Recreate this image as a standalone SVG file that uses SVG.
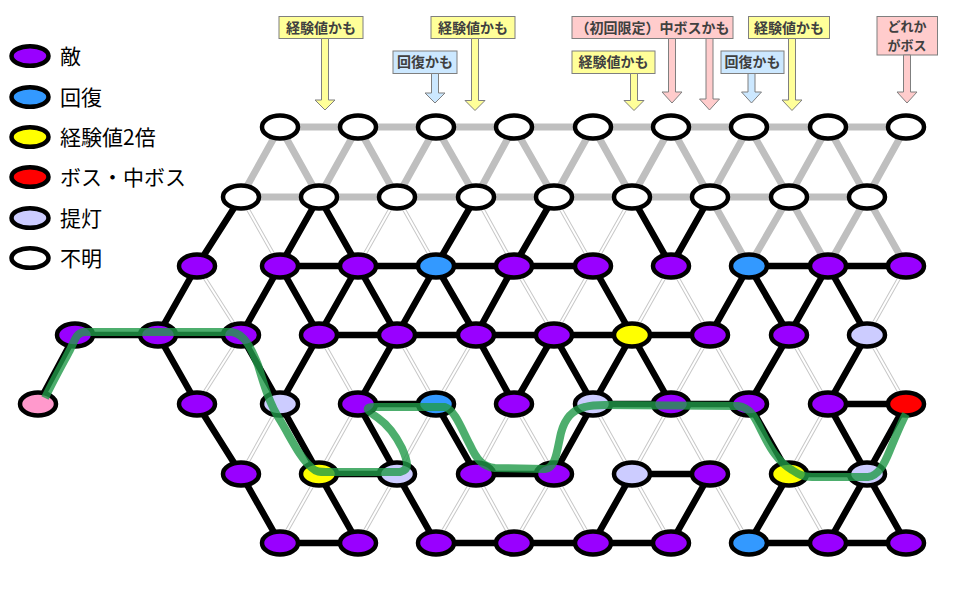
<svg xmlns="http://www.w3.org/2000/svg" width="960" height="600" viewBox="0 0 960 600">
<style>
.n{stroke:#000;stroke-width:4.5}
.e{fill:#9900ff}.h{fill:#3399ff}.x{fill:#ffff00}.b{fill:#ff0000}.l{fill:#ccccff}.u{fill:#fff}.p{fill:#ff99cc}
.g{stroke:#bfbfbf;stroke-width:7;fill:none}
.k{stroke:#000;stroke-width:6.5;fill:none}
.t{stroke:#c8c8c8;stroke-width:4;fill:none}
.tw{stroke:#fff;stroke-width:2;fill:none}
.lg{font-family:"Noto Sans CJK JP","Noto Sans",sans-serif;font-size:21px;fill:#000}
.lb{font-family:"Noto Sans CJK JP","Noto Sans",sans-serif;font-size:14px;font-weight:bold;fill:#404040;text-anchor:middle}
.by{fill:#ffff99;stroke:#7f7f7f;stroke-width:1}
.bb{fill:#cce8ff;stroke:#7f7f7f;stroke-width:1}
.bp{fill:#ffcccc;stroke:#7f7f7f;stroke-width:1}
.route{fill:none;stroke:rgb(33,154,73);stroke-opacity:0.8;stroke-width:8;stroke-linejoin:round}
</style>
<rect width="960" height="600" fill="#fff"/>

<g id="legend">
<ellipse class="n e" cx="30" cy="56" rx="18.5" ry="9.8" stroke-width="4"/>
<text class="lg" x="60" y="64">敵</text>
<ellipse class="n h" cx="30" cy="97" rx="18.5" ry="9.8" stroke-width="4"/>
<text class="lg" x="60" y="105">回復</text>
<ellipse class="n x" cx="30" cy="137" rx="18.5" ry="9.8" stroke-width="4"/>
<text class="lg" x="60" y="145">経験値2倍</text>
<ellipse class="n b" cx="30" cy="177" rx="18.5" ry="9.8" stroke-width="4"/>
<text class="lg" x="60" y="185">ボス・中ボス</text>
<ellipse class="n l" cx="30" cy="218" rx="18.5" ry="9.8" stroke-width="4"/>
<text class="lg" x="60" y="226">提灯</text>
<ellipse class="n u" cx="30" cy="258" rx="18.5" ry="9.8" stroke-width="4"/>
<text class="lg" x="60" y="266">不明</text>
</g>

<g id="callouts">
<g id="c1">
<rect class="by" x="279" y="16.5" width="84" height="22"/>
<text class="lb" x="321" y="32.5">経験値かも</text>
<polygon class="by" points="321.5,38.5 328.5,38.5 328.5,100 335,100 325,110 315,100 321.5,100"/>
</g>
<g id="c2">
<rect class="bb" x="393" y="51" width="64" height="22.5"/>
<text class="lb" x="425" y="67">回復かも</text>
<polygon class="bb" points="431.5,73.5 438.5,73.5 438.5,93 445,93 435,103 425,93 431.5,93"/>
</g>
<g id="c3">
<rect class="by" x="431" y="16.5" width="84" height="22"/>
<text class="lb" x="473" y="32.5">経験値かも</text>
<polygon class="by" points="471.5,38.5 478.5,38.5 478.5,100.5 485,100.5 475,110.5 465,100.5 471.5,100.5"/>
</g>
<g id="c4">
<rect class="bp" x="572" y="16.5" width="161" height="22"/>
<text class="lb" x="652.5" y="32.5">（初回限定）中ボスかも</text>
<polygon class="bp" points="668.5,38.5 675.5,38.5 675.5,92 682,92 672,103 662,92 668.5,92"/>
<polygon class="bp" points="706,38.5 713,38.5 713,99 719.5,99 709.5,110 699.5,99 706,99"/>
</g>
<g id="c5">
<rect class="by" x="572" y="51" width="83" height="22.5"/>
<text class="lb" x="613.5" y="67">経験値かも</text>
<polygon class="by" points="630.5,73.5 637.5,73.5 637.5,100.5 644,100.5 634,110.5 624,100.5 630.5,100.5"/>
</g>
<g id="c6">
<rect class="bb" x="721" y="51" width="63" height="22.5"/>
<text class="lb" x="752.5" y="67">回復かも</text>
<polygon class="bb" points="748,73.5 755,73.5 755,92 761.5,92 751.5,103 741.5,92 748,92"/>
</g>
<g id="c7">
<rect class="by" x="748.5" y="16.5" width="81" height="22"/>
<text class="lb" x="789" y="32.5">経験値かも</text>
<polygon class="by" points="788.5,38.5 795.5,38.5 795.5,100 802,100 792,110.5 782,100 788.5,100"/>
</g>
<g id="c8">
<rect class="bp" x="877" y="16.5" width="60.5" height="38.5"/>
<text class="lb" x="907" y="31" style="font-size:13px"><tspan x="907" y="31">どれか</tspan><tspan x="907" y="50">がボス</tspan></text>
<polygon class="bp" points="903.5,55 910.5,55 910.5,92 917,92 907,103 897,92 903.5,92"/>
</g>
</g>

<g id="connectors">
<path id="thin" class="t" d="M241,197L280,266M397,197L358,266M397,197L436,266M476,197L514,266M554,197L593,266M632,197L593,266
M197,266L241,335M514,266L554,335M593,266L554,335M671,266L632,335M671,266L710,335M906,266L867,335
M241,335L197,404M319,335L358,404M397,335L436,404M476,335L436,404M710,335L671,404M710,335L749,404M789,335L828,404M867,335L906,404
M280,404L241,474M358,404L319,474M436,404L397,474M514,404L476,474M514,404L554,474M593,404L632,474M671,404L632,474M671,404L710,474M749,404L710,474M828,404L789,474
M319,474L280,543M397,474L358,543M476,474L436,543M476,474L514,543M554,474L514,543M554,474L593,543M632,474L671,543M710,474L749,543M789,474L828,543"/>
<path class="tw" d="M241,197L280,266M397,197L358,266M397,197L436,266M476,197L514,266M554,197L593,266M632,197L593,266
M197,266L241,335M514,266L554,335M593,266L554,335M671,266L632,335M671,266L710,335M906,266L867,335
M241,335L197,404M319,335L358,404M397,335L436,404M476,335L436,404M710,335L671,404M710,335L749,404M789,335L828,404M867,335L906,404
M280,404L241,474M358,404L319,474M436,404L397,474M514,404L476,474M514,404L554,474M593,404L632,474M671,404L632,474M671,404L710,474M749,404L710,474M828,404L789,474
M319,474L280,543M397,474L358,543M476,474L436,543M476,474L514,543M554,474L514,543M554,474L593,543M632,474L671,543M710,474L749,543M789,474L828,543"/>
<path id="gray" class="g" d="M280,127L906,127M241,197L867,197
M241,197L280,127L319,197L358,127L397,197L436,127L476,197L514,127L554,197L593,127L632,197L671,127L710,197L749,127L789,197L828,127L867,197L906,127
M710,197L749,266L789,197L828,266L867,197L906,266"/>
<path id="black" class="k" d="M241,197L197,266M319,197L280,266M319,197L358,266M476,197L436,266M554,197L514,266M632,197L671,266M710,197L671,266
M280,266L593,266M749,266L906,266
M197,266L158,335M280,266L241,335M280,266L319,335M358,266L319,335M358,266L397,335M436,266L397,335M436,266L476,335M514,266L476,335M593,266L632,335M749,266L710,335M749,266L789,335M828,266L789,335M828,266L867,335
M75,335L241,335M319,335L710,335
M75,335L38,404M158,335L197,404M241,335L280,404M319,335L280,404M397,335L358,404M476,335L514,404M554,335L514,404M554,335L593,404M632,335L593,404M632,335L671,404M789,335L749,404M867,335L828,404
M358,404L436,404M593,404L749,404M828,404L906,404
M197,404L241,474M280,404L319,474M358,404L397,474M436,404L476,474M593,404L554,474M749,404L789,474M828,404L867,474M906,404L867,474
M319,474L397,474M476,474L554,474M632,474L710,474M789,474L867,474
M241,474L280,543M319,474L358,543M397,474L436,543M632,474L593,543M710,474L671,543M789,474L749,543M867,474L828,543M867,474L906,543
M280,543L358,543M436,543L671,543M749,543L906,543"/>
</g>

<g id="nodes">
<g id="A1"><ellipse class="n u" cx="280" cy="127" rx="18" ry="11.5"/></g>
<g id="A2"><ellipse class="n u" cx="358" cy="127" rx="18" ry="11.5"/></g>
<g id="A3"><ellipse class="n u" cx="436" cy="127" rx="18" ry="11.5"/></g>
<g id="A4"><ellipse class="n u" cx="514" cy="127" rx="18" ry="11.5"/></g>
<g id="A5"><ellipse class="n u" cx="593" cy="127" rx="18" ry="11.5"/></g>
<g id="A6"><ellipse class="n u" cx="671" cy="127" rx="18" ry="11.5"/></g>
<g id="A7"><ellipse class="n u" cx="749" cy="127" rx="18" ry="11.5"/></g>
<g id="A8"><ellipse class="n u" cx="828" cy="127" rx="18" ry="11.5"/></g>
<g id="A9"><ellipse class="n u" cx="906" cy="127" rx="18" ry="11.5"/></g>

<g id="B1"><ellipse class="n u" cx="241" cy="197" rx="18" ry="11.5"/></g>
<g id="B2"><ellipse class="n u" cx="319" cy="197" rx="18" ry="11.5"/></g>
<g id="B3"><ellipse class="n u" cx="397" cy="197" rx="18" ry="11.5"/></g>
<g id="B4"><ellipse class="n u" cx="476" cy="197" rx="18" ry="11.5"/></g>
<g id="B5"><ellipse class="n u" cx="554" cy="197" rx="18" ry="11.5"/></g>
<g id="B6"><ellipse class="n u" cx="632" cy="197" rx="18" ry="11.5"/></g>
<g id="B7"><ellipse class="n u" cx="710" cy="197" rx="18" ry="11.5"/></g>
<g id="B8"><ellipse class="n u" cx="789" cy="197" rx="18" ry="11.5"/></g>
<g id="B9"><ellipse class="n u" cx="867" cy="197" rx="18" ry="11.5"/></g>

<g id="C0"><ellipse class="n e" cx="197" cy="266" rx="18" ry="11.5"/></g>
<g id="C1"><ellipse class="n e" cx="280" cy="266" rx="18" ry="11.5"/></g>
<g id="C2"><ellipse class="n e" cx="358" cy="266" rx="18" ry="11.5"/></g>
<g id="C3"><ellipse class="n h" cx="436" cy="266" rx="18" ry="11.5"/></g>
<g id="C4"><ellipse class="n e" cx="514" cy="266" rx="18" ry="11.5"/></g>
<g id="C5"><ellipse class="n e" cx="593" cy="266" rx="18" ry="11.5"/></g>
<g id="C6"><ellipse class="n e" cx="671" cy="266" rx="18" ry="11.5"/></g>
<g id="C7"><ellipse class="n h" cx="749" cy="266" rx="18" ry="11.5"/></g>
<g id="C8"><ellipse class="n e" cx="828" cy="266" rx="18" ry="11.5"/></g>
<g id="C9"><ellipse class="n e" cx="906" cy="266" rx="18" ry="11.5"/></g>

<g id="Da"><ellipse class="n e" cx="75" cy="335" rx="18" ry="11.5"/></g>
<g id="Db"><ellipse class="n e" cx="158" cy="335" rx="18" ry="11.5"/></g>
<g id="D1"><ellipse class="n e" cx="241" cy="335" rx="18" ry="11.5"/></g>
<g id="D2"><ellipse class="n e" cx="319" cy="335" rx="18" ry="11.5"/></g>
<g id="D3"><ellipse class="n e" cx="397" cy="335" rx="18" ry="11.5"/></g>
<g id="D4"><ellipse class="n e" cx="476" cy="335" rx="18" ry="11.5"/></g>
<g id="D5"><ellipse class="n e" cx="554" cy="335" rx="18" ry="11.5"/></g>
<g id="D6"><ellipse class="n x" cx="632" cy="335" rx="18" ry="11.5"/></g>
<g id="D7"><ellipse class="n e" cx="710" cy="335" rx="18" ry="11.5"/></g>
<g id="D8"><ellipse class="n e" cx="789" cy="335" rx="18" ry="11.5"/></g>
<g id="D9"><ellipse class="n l" cx="867" cy="335" rx="18" ry="11.5"/></g>

<g id="start"><ellipse class="n p" cx="38" cy="404" rx="18" ry="11.5"/></g>
<g id="E0"><ellipse class="n e" cx="197" cy="404" rx="18" ry="11.5"/></g>
<g id="E1"><ellipse class="n l" cx="280" cy="404" rx="18" ry="11.5"/></g>
<g id="E2"><ellipse class="n e" cx="358" cy="404" rx="18" ry="11.5"/></g>
<g id="E3"><ellipse class="n h" cx="436" cy="404" rx="18" ry="11.5"/></g>
<g id="E4"><ellipse class="n e" cx="514" cy="404" rx="18" ry="11.5"/></g>
<g id="E5"><ellipse class="n l" cx="593" cy="404" rx="18" ry="11.5"/></g>
<g id="E6"><ellipse class="n e" cx="671" cy="404" rx="18" ry="11.5"/></g>
<g id="E7"><ellipse class="n e" cx="749" cy="404" rx="18" ry="11.5"/></g>
<g id="E8"><ellipse class="n e" cx="828" cy="404" rx="18" ry="11.5"/></g>
<g id="E9"><ellipse class="n b" cx="906" cy="404" rx="18" ry="11.5"/></g>

<g id="F1"><ellipse class="n e" cx="241" cy="474" rx="18" ry="11.5"/></g>
<g id="F2"><ellipse class="n x" cx="319" cy="474" rx="18" ry="11.5"/></g>
<g id="F3"><ellipse class="n l" cx="397" cy="474" rx="18" ry="11.5"/></g>
<g id="F4"><ellipse class="n e" cx="476" cy="474" rx="18" ry="11.5"/></g>
<g id="F5"><ellipse class="n e" cx="554" cy="474" rx="18" ry="11.5"/></g>
<g id="F6"><ellipse class="n l" cx="632" cy="474" rx="18" ry="11.5"/></g>
<g id="F7"><ellipse class="n e" cx="710" cy="474" rx="18" ry="11.5"/></g>
<g id="F8"><ellipse class="n x" cx="789" cy="474" rx="18" ry="11.5"/></g>
<g id="F9"><ellipse class="n l" cx="867" cy="474" rx="18" ry="11.5"/></g>

<g id="G1"><ellipse class="n e" cx="280" cy="543" rx="18" ry="11.5"/></g>
<g id="G2"><ellipse class="n e" cx="358" cy="543" rx="18" ry="11.5"/></g>
<g id="G3"><ellipse class="n e" cx="436" cy="543" rx="18" ry="11.5"/></g>
<g id="G4"><ellipse class="n e" cx="514" cy="543" rx="18" ry="11.5"/></g>
<g id="G5"><ellipse class="n e" cx="593" cy="543" rx="18" ry="11.5"/></g>
<g id="G6"><ellipse class="n e" cx="671" cy="543" rx="18" ry="11.5"/></g>
<g id="G7"><ellipse class="n h" cx="749" cy="543" rx="18" ry="11.5"/></g>
<g id="G8"><ellipse class="n e" cx="828" cy="543" rx="18" ry="11.5"/></g>
<g id="G9"><ellipse class="n e" cx="906" cy="543" rx="18" ry="11.5"/></g>
</g>

<g id="route">
<path class="route" d="M45,398 C52,383 62,365 70,350 C75,340 76,333 84,332 L232,332 C245,334 252,350 258,365 C264,385 270,405 280,420 C292,440 300,458 312,468 C316,472 320,472 326,472 L400,472 C410,470 408,462 402,448 C396,436 388,425 378,418 C366,410 364,407 375,407 L445,407 C455,410 462,430 470,445 C476,458 482,467 495,468 L545,469 C556,468 557,450 561,433 C565,418 572,410 585,407 C592,405 598,405 605,405 L738,406 C752,408 756,420 762,432 C770,448 778,462 792,470 C798,474 803,477 812,477 L868,477 C878,476 884,465 890,450 C896,436 900,425 906,414"/>
</g>
</svg>
